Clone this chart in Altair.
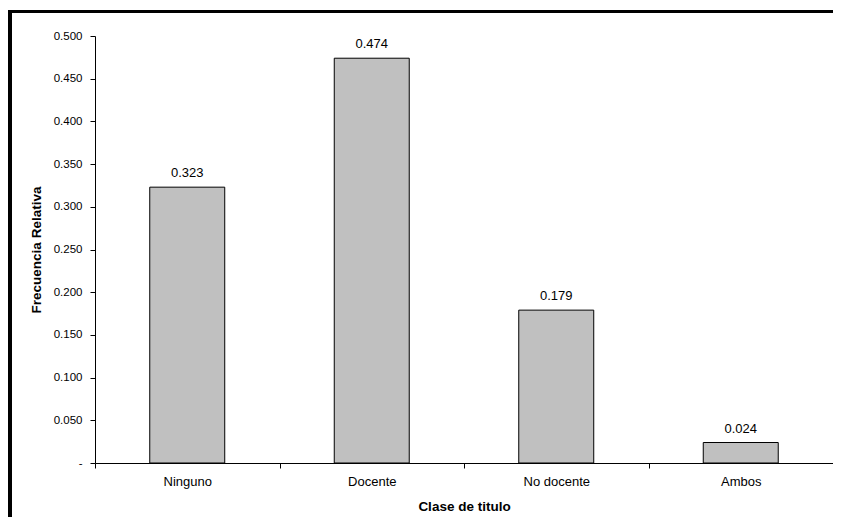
import altair as alt
import pandas as pd

categories = ["Ninguno", "Docente", "No docente", "Ambos"]
values = [0.323, 0.474, 0.179, 0.024]
y_ticks = [0.0, 0.05, 0.10, 0.15, 0.20, 0.25, 0.30, 0.35, 0.40, 0.45, 0.50]

df = pd.DataFrame({"clase": categories, "freq": values})

FONT = "Liberation Sans"

x_enc = alt.X(
    "clase:N",
    sort=categories,
    scale=alt.Scale(paddingInner=0, paddingOuter=0),
    axis=alt.Axis(
        title="Clase de titulo",
        labelAngle=0,
        tickBand="extent",
        tickSize=5,
        labelPadding=7,
        labelFontSize=13,
        titleFontSize=13.5,
        titleFontWeight="bold",
        titlePadding=11,
    ),
)
y_enc = alt.Y(
    "freq:Q",
    scale=alt.Scale(domain=[0, 0.5], nice=False),
    axis=alt.Axis(
        title="Frecuencia Relativa",
        values=y_ticks,
        labelExpr="datum.value == 0 ? '-\u2007\u2007' : format(datum.value, '.3f')",
        tickSize=5,
        labelPadding=8,
        labelFontSize=11.5,
        titleFontSize=13.5,
        titleFontWeight="bold",
        titlePadding=10,
        grid=False,
    ),
)

bars = alt.Chart(df).mark_bar(
    width=alt.RelativeBandSize(0.4065),
    color="#C0C0C0",
    stroke="black",
    strokeWidth=1,
).encode(x=x_enc, y=y_enc)

labels = alt.Chart(df).mark_text(
    baseline="alphabetic", dy=-10, fontSize=13, font=FONT, color="black"
).encode(
    x=alt.X("clase:N", sort=categories),
    y="freq:Q",
    text=alt.Text("freq:Q", format=".3f"),
)

frame_top = alt.Chart(df).mark_rule(color="black", strokeWidth=3).encode(
    x=alt.value(-87), x2=alt.value(760), y=alt.value(-24.5)
)
frame_left = alt.Chart(df).mark_rule(color="black", strokeWidth=4).encode(
    x=alt.value(-85), y=alt.value(-26), y2=alt.value(500)
)

chart = (
    alt.layer(bars, labels, frame_top, frame_left)
    .properties(
        width=738,
        height=427,
        autosize=alt.AutoSizeParams(type="none"),
        padding={"left": 87, "top": 28, "right": 0, "bottom": 54},
        background="white",
    )
    .configure(font=FONT)
    .configure_view(stroke=None)
    .configure_axis(
        domainColor="black",
        tickColor="black",
        labelColor="black",
        titleColor="black",
        labelFont=FONT,
        titleFont=FONT,
    )
)

chart.save("out.html", embed_options={"renderer": "svg", "actions": False})
